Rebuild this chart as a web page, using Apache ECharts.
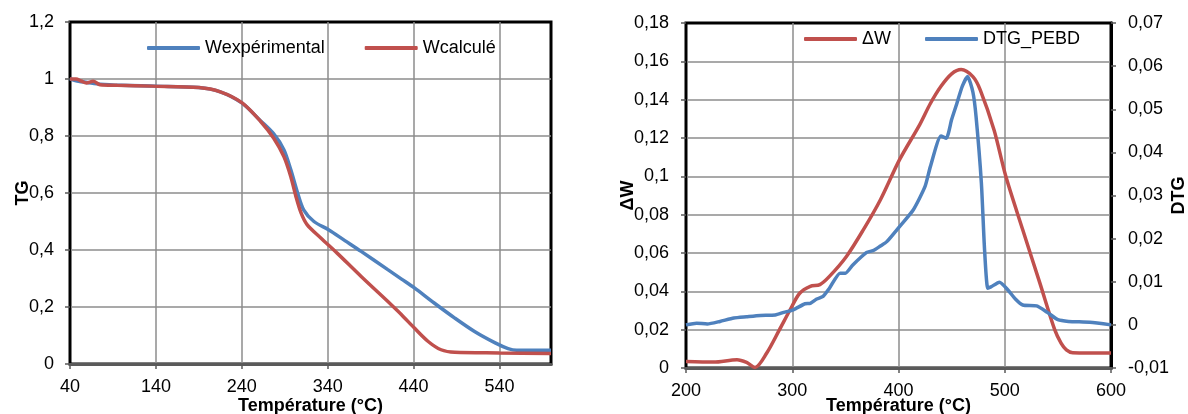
<!DOCTYPE html>
<html>
<head>
<meta charset="utf-8">
<script src="https://cdn.jsdelivr.net/npm/echarts@6/dist/echarts.min.js"></script>
<style>
html,body{margin:0;padding:0;background:#fff;}
#c{width:1188px;height:414px;}
</style>
</head>
<body>
<div id="c"></div>
<script>
// ---- Left chart: TG ----
var expT = [40, 50, 60, 75, 100, 140, 190, 215, 240, 262, 277, 289, 297, 305, 312, 324, 341, 360, 379, 410, 426, 441, 464, 488, 511, 535, 550, 560, 600];
var expW = [1.0, 0.992, 0.988, 0.982, 0.978, 0.975, 0.970, 0.955, 0.916, 0.853, 0.808, 0.752, 0.682, 0.600, 0.541, 0.500, 0.471, 0.433, 0.395, 0.331, 0.298, 0.267, 0.214, 0.161, 0.114, 0.074, 0.054, 0.048, 0.048];
var calcT = [40, 47, 53, 59, 67, 75, 95, 135, 190, 215, 240, 262, 277, 289, 297, 303, 309, 316, 332, 351, 379, 414, 426, 441, 457, 472, 488, 540, 600];
var calcW = [1.0, 1.0, 0.993, 0.986, 0.992, 0.980, 0.978, 0.975, 0.970, 0.955, 0.917, 0.851, 0.793, 0.728, 0.658, 0.588, 0.530, 0.489, 0.442, 0.389, 0.307, 0.208, 0.173, 0.126, 0.079, 0.050, 0.041, 0.039, 0.037];

// ---- Right chart: DeltaW and DTG ----
var dwT = [200, 226, 248, 257, 265, 276, 288, 298, 307, 317, 326, 335, 351, 367, 383, 401, 420, 430, 440, 450, 459, 470, 477, 490, 501, 517, 533, 547, 553, 558, 564, 600];
var dwV = [0.0034, 0.0031, 0.0043, 0.0029, 0.0003, 0.0078, 0.020, 0.0304, 0.039, 0.0426, 0.0435, 0.0478, 0.0582, 0.0722, 0.0878, 0.1087, 0.127, 0.138, 0.147, 0.1535, 0.1557, 0.152, 0.145, 0.124, 0.100, 0.072, 0.0444, 0.020, 0.013, 0.0095, 0.008, 0.0078];
var dtgT = [200, 210, 220, 232, 245, 257, 270, 284, 292, 301, 312, 317, 323, 329, 335, 345, 350, 357, 370, 376, 383, 389, 401, 414, 425, 430, 440, 445, 450, 455, 460, 465, 470, 473, 478, 481, 484, 487, 495, 503, 510, 517, 530, 540, 550, 560, 580, 600];
var dtgV = [0.0, 0.0004, 0.0002, 0.0008, 0.0016, 0.0019, 0.0022, 0.0023, 0.0029, 0.0035, 0.0049, 0.005, 0.006, 0.0066, 0.0085, 0.012, 0.012, 0.0139, 0.0168, 0.0172, 0.0183, 0.0193, 0.0228, 0.0267, 0.0321, 0.0367, 0.0438, 0.0433, 0.0476, 0.0514, 0.0553, 0.0576, 0.054, 0.0483, 0.0329, 0.0174, 0.0085, 0.0088, 0.0099, 0.0081, 0.006, 0.0046, 0.0044, 0.0029, 0.0012, 0.0008, 0.0006, 0.0];

var names = ['Wexpérimental', 'Wcalculé', 'ΔW', 'DTG_PEBD'];
var BLUE = '#4F81BD', RED = '#C0504D';
var FONT = 'Liberation Sans, Arial, sans-serif';

function pairs(xs, ys){ return xs.map(function(x,i){ return [x, ys[i]]; }); }
function comma(v){ return String(Number(v.toFixed(3))).replace('.', ','); }

var gridLine = {show:true, showMinLine:false, showMaxLine:false, lineStyle:{color:'#8c8c8c', width:1.5}};
var lbl = {color:'#000', fontSize:18, fontFamily:FONT};
var nameSt = {color:'#000', fontSize:18, fontWeight:'bold', fontFamily:FONT};

function xAx(gi, min, max, gap, hideMax){
  return {type:'value', gridIndex:gi, min:min, max:max, interval:100,
    name:'Température (°C)', nameLocation:'middle', nameGap:gap, nameMoveOverlap:false, nameTextStyle:nameSt,
    axisLine:{show:true, onZero:false, lineStyle:{color:'#5a5a5a', width:3}},
    axisTick:{show:true, inside:false, length:5, lineStyle:{color:'#5a5a5a', width:1.5}},
    axisLabel:Object.assign({margin:14, showMaxLabel:!hideMax, showMinLabel:true}, lbl),
    splitLine:gridLine};
}

var option = {
  animation:false,
  backgroundColor:'#fff',
  textStyle:{fontFamily:FONT},
  grid:[
    {left:70, right:637, top:22, bottom:50, outerBoundsMode:'none', containLabel:false, show:true, borderColor:'#000', borderWidth:3, backgroundColor:'#fff'},
    {left:686, right:77, top:23, bottom:46, outerBoundsMode:'none', containLabel:false, show:true, borderColor:'#000', borderWidth:3, backgroundColor:'#fff'}
  ],
  legend:[
    {left:142, top:34, itemWidth:53, itemHeight:4, itemGap:40, icon:'roundRect',
     data:[names[0], names[1]], textStyle:lbl, selectedMode:false},
    {left:799, top:25, itemWidth:53, itemHeight:4, itemGap:34, icon:'roundRect',
     data:[names[2], names[3]], textStyle:lbl, selectedMode:false}
  ],
  xAxis:[
    xAx(0, 40, 600, 33, true),
    xAx(1, 200, 600, 29, false)
  ],
  yAxis:[
    {type:'value', gridIndex:0, min:0, max:1.2, interval:0.2,
     name:'TG', nameLocation:'middle', nameGap:38, nameRotate:90, nameMoveOverlap:false, nameTextStyle:nameSt,
     axisLine:{show:true, onZero:false, lineStyle:{color:'#000', width:2}},
     axisTick:{show:true, inside:false, length:5, lineStyle:{color:'#5a5a5a', width:1.5}},
     axisLabel:Object.assign({margin:16, formatter:comma}, lbl),
     splitLine:gridLine},
    {type:'value', gridIndex:1, min:0, max:0.18, interval:0.02,
     name:'ΔW', nameLocation:'middle', nameGap:49, nameRotate:90, nameMoveOverlap:false, nameTextStyle:nameSt,
     axisLine:{show:true, onZero:false, lineStyle:{color:'#000', width:2}},
     axisTick:{show:true, inside:false, length:5, lineStyle:{color:'#5a5a5a', width:1.5}},
     axisLabel:Object.assign({margin:17, formatter:comma}, lbl),
     splitLine:gridLine},
    {type:'value', gridIndex:1, position:'right', min:-0.01, max:0.07, interval:0.01,
     name:'DTG', nameLocation:'middle', nameGap:59, nameRotate:90, nameMoveOverlap:false, nameTextStyle:nameSt,
     axisLine:{show:true, onZero:false, lineStyle:{color:'#000', width:3}},
     axisTick:{show:true, inside:false, length:5, lineStyle:{color:'#5a5a5a', width:1.5}},
     axisLabel:Object.assign({margin:17, formatter:comma}, lbl),
     splitLine:{show:false}}
  ],
  series:[
    {name:names[0], type:'line', xAxisIndex:0, yAxisIndex:0, data:pairs(expT, expW),
     smooth:0.3, showSymbol:false, symbol:'none', lineStyle:{color:BLUE, width:3.5}, itemStyle:{color:BLUE}},
    {name:names[1], type:'line', xAxisIndex:0, yAxisIndex:0, data:pairs(calcT, calcW),
     smooth:0.3, showSymbol:false, symbol:'none', lineStyle:{color:RED, width:3.5}, itemStyle:{color:RED}},
    {name:names[2], type:'line', xAxisIndex:1, yAxisIndex:1, data:pairs(dwT, dwV),
     smooth:0.3, showSymbol:false, symbol:'none', lineStyle:{color:RED, width:3.5}, itemStyle:{color:RED}},
    {name:names[3], type:'line', xAxisIndex:1, yAxisIndex:2, data:pairs(dtgT, dtgV),
     smooth:0.2, showSymbol:false, symbol:'none', lineStyle:{color:BLUE, width:3.5}, itemStyle:{color:BLUE}}
  ]
};
var chart = echarts.init(document.getElementById('c'), null, {renderer:'canvas'});
chart.setOption(option);
</script>
</body>
</html>
